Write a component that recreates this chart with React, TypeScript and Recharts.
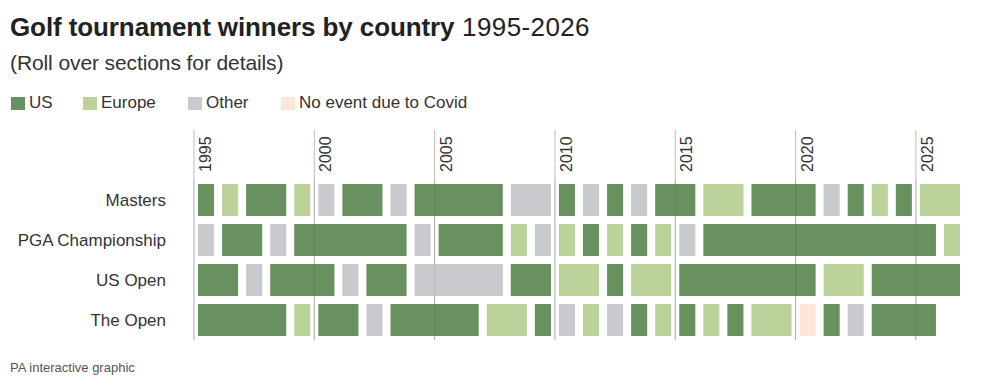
import React from "react";
import { BarChart, Bar, XAxis, YAxis, ReferenceLine, CartesianGrid } from "recharts";

const YEARS = [
  1995, 1996, 1997, 1998, 1999, 2000, 2001, 2002, 2003, 2004, 2005, 2006, 2007, 2008, 2009, 2010,
  2011, 2012, 2013, 2014, 2015, 2016, 2017, 2018, 2019, 2020, 2021, 2022, 2023, 2024, 2025, 2026,
];
const YEAR_TICKS = [1995, 2000, 2005, 2010, 2015, 2020, 2025];
const DOMAIN = [1995, 2027];

const TOURNAMENTS = ["Masters", "PGA Championship", "US Open", "The Open"];

// US = United States, EU = Europe, OT = Other, CV = No event (Covid), "" = not yet played
const MASTERS = ["US","EU","US","US","EU","OT","US","US","OT","US","US","US","US","OT","OT","US","OT","US","OT","US","US","EU","EU","US","US","US","OT","US","EU","US","EU","EU"];
const PGA = ["OT","US","US","OT","US","US","US","US","US","OT","US","US","US","EU","OT","EU","US","EU","US","EU","OT","US","US","US","US","US","US","US","US","US","US","EU"];
const US_OPEN = ["US","US","OT","US","US","US","OT","US","US","OT","OT","OT","OT","US","US","EU","EU","US","EU","EU","US","US","US","US","US","US","EU","EU","US","US","US","US"];
const THE_OPEN = ["US","US","US","US","EU","US","US","OT","US","US","US","US","EU","EU","US","OT","EU","OT","US","EU","US","EU","US","EU","EU","CV","US","OT","US","US","US",""];

const SERIES = [MASTERS, PGA, US_OPEN, THE_OPEN];

const LEGEND_KEYS = ["US", "EU", "OT", "CV"];
const LEGEND_LABELS = ["US", "Europe", "Other", "No event due to Covid"];

const COLORS: Record<string, string> = {
  US: "#69915f",
  EU: "#bcd29b",
  OT: "#c9cacd",
  CV: "#fde6d5",
};

const FONT = "'Liberation Sans', Arial, Helvetica, sans-serif";
const GRID = "#bdbdbd";
const GRID_OVER = "rgba(0,0,0,0.1)";

type Run = { code: string; len: number };

function toRuns(codes: string[]): Run[] {
  const runs: Run[] = [];
  for (let i = 0; i < YEARS.length; i++) {
    const c = codes[i];
    const last = runs[runs.length - 1];
    if (last && last.code === c) last.len += 1;
    else runs.push({ code: c, len: 1 });
  }
  return runs;
}

const RUNS = SERIES.map(toRuns);
const MAX_RUNS = Math.max(...RUNS.map((r) => r.length));

const rows = TOURNAMENTS.map((name, i) => {
  const obj: Record<string, any> = { name, base: DOMAIN[0] };
  for (let k = 0; k < MAX_RUNS; k++) {
    const r = RUNS[i][k];
    obj[`s${k}`] = r ? r.len : 0;
    obj[`c${k}`] = r ? r.code : "";
  }
  return obj;
});

const makeShape = (k: number) => (props: any) => {
  const { x, y, width, height, payload } = props;
  const code = payload ? payload[`c${k}`] : "";
  if (!code || !width || width <= 8) return <g />;
  return <rect x={x + 4} y={y} width={width - 8} height={height} fill={COLORS[code]} />;
};

const EmptyShape = () => <g />;

const YearTick = (props: any) => {
  const { x, y, payload } = props;
  const tx = x + 17;
  const ty = y + 42;
  return (
    <text
      x={tx}
      y={ty}
      transform={`rotate(-90, ${tx}, ${ty})`}
      textAnchor="start"
      fontSize={16}
      fontFamily={FONT}
      fill="#333"
    >
      {payload.value}
    </text>
  );
};

export default function App() {
  return (
    <div
      style={{
        position: "absolute",
        left: 0,
        top: 0,
        width: 1000,
        height: 388,
        background: "#fff",
        fontFamily: FONT,
        color: "#222",
        overflow: "hidden",
      }}
    >
      <div
        style={{
          position: "absolute",
          left: 10,
          top: 14,
          fontSize: 26,
          lineHeight: "26px",
          whiteSpace: "nowrap",
          color: "#222",
        }}
      >
        <span style={{ fontWeight: 700, letterSpacing: -0.1 }}>Golf tournament winners by country</span>
        <span style={{ letterSpacing: 0.4 }}> 1995-2026</span>
      </div>
      <div
        style={{
          position: "absolute",
          left: 10,
          top: 52,
          fontSize: 21,
          lineHeight: "21px",
          whiteSpace: "nowrap",
          color: "#333",
          letterSpacing: -0.1,
        }}
      >
        (Roll over sections for details)
      </div>
      {LEGEND_KEYS.map((k, i) => {
        const lefts = [11, 83, 188, 281];
        return (
          <div key={k} style={{ position: "absolute", left: lefts[i], top: 94, height: 17 }}>
            <div
              style={{
                position: "absolute",
                left: 0,
                top: 3,
                width: 14,
                height: 13,
                background: COLORS[k],
              }}
            />
            <div
              style={{
                position: "absolute",
                left: 18,
                top: 0,
                fontSize: 17,
                lineHeight: "17px",
                whiteSpace: "nowrap",
                color: "#333",
              }}
            >
              {LEGEND_LABELS[i]}
            </div>
          </div>
        );
      })}
      <div
        style={{
          position: "absolute",
          left: 10,
          top: 361,
          fontSize: 13,
          lineHeight: "13px",
          whiteSpace: "nowrap",
          color: "#555",
        }}
      >
        PA interactive graphic
      </div>
      <div style={{ position: "absolute", left: 0, top: 0 }}>
        <BarChart
          width={1000}
          height={388}
          data={rows}
          layout="vertical"
          barSize={32}
          margin={{ top: 130, right: 36, bottom: 48, left: 0 }}
        >
          <CartesianGrid
            horizontal={false}
            vertical
            stroke={GRID}
            verticalValues={YEAR_TICKS}
          />
          <XAxis
            type="number"
            orientation="top"
            domain={DOMAIN}
            allowDataOverflow
            ticks={YEAR_TICKS}
            interval={0}
            tickSize={50}
            tickMargin={0}
            height={50}
            axisLine={false}
            tickLine={{ stroke: GRID }}
            tick={<YearTick />}
          />
          <YAxis
            type="category"
            dataKey="name"
            width={194}
            axisLine={false}
            tickLine={false}
            tickSize={0}
            tickMargin={28}
            interval={0}
            tick={{ fontSize: 17, fill: "#333", fontFamily: FONT }}
          />
          <Bar dataKey="base" stackId="a" isAnimationActive={false} shape={<EmptyShape />} />
          {Array.from({ length: MAX_RUNS }, (_, k) => (
            <Bar
              key={k}
              dataKey={`s${k}`}
              stackId="a"
              isAnimationActive={false}
              shape={makeShape(k)}
            />
          ))}
          {YEAR_TICKS.map((t) => (
            <ReferenceLine key={t} x={t} stroke={GRID_OVER} strokeWidth={1} ifOverflow="visible" />
          ))}
        </BarChart>
      </div>
    </div>
  );
}
